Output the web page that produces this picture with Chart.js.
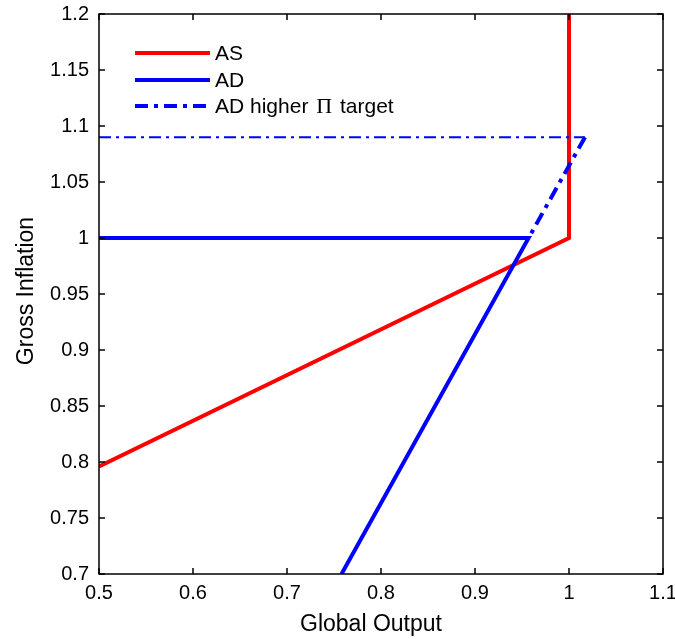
<!DOCTYPE html>
<html>
<head>
<meta charset="utf-8">
<script src="https://cdn.jsdelivr.net/npm/chart.js@4.4.1/dist/chart.umd.min.js"></script>
<style>
  html, body { margin: 0; padding: 0; background: #ffffff; }
  #wrap { width: 675px; height: 639px; }
</style>
</head>
<body>
<div id="wrap"><canvas id="c" width="675" height="639"></canvas></div>
<script>
// ---- data ----
const xTickLabels = ['0.5', '0.6', '0.7', '0.8', '0.9', '1', '1.1'];
const yTickLabels = ['0.7', '0.75', '0.8', '0.85', '0.9', '0.95', '1', '1.05', '1.1', '1.15', '1.2'];
const seriesLabels = ['AS', 'AD', 'AD higher Π target'];
const xTitle = 'Global Output';
const yTitle = 'Gross Inflation';

const asX = [0.5, 1.0, 1.0];
const asY = [0.796, 1.0, 1.2];
const adX = [0.5, 0.957, 0.758];
const adY = [1.0, 1.0, 0.7];
const adHighX = [1.017, 0.957];
const adHighY = [1.09, 1.0];
const targetX = [0.5, 1.017];
const targetY = [1.09, 1.09];

function pts(xs, ys) { return xs.map((x, i) => ({ x: x, y: ys[i] })); }
function labelFor(list, value) {
  for (const l of list) { if (Math.abs(parseFloat(l) - value) < 1e-6) return l; }
  return '';
}

const FONT = "'Liberation Sans', Arial, sans-serif";

const boxPlugin = {
  id: 'boxPlugin',
  afterDraw(chart) {
    const ctx = chart.ctx;
    const a = chart.chartArea;
    const xs = chart.scales.x, ys = chart.scales.y;
    ctx.save();
    ctx.strokeStyle = '#000';
    ctx.lineWidth = 1.5;
    ctx.strokeRect(a.left, a.top, a.right - a.left, a.bottom - a.top);
    const tl = 6;
    ctx.beginPath();
    xs.ticks.forEach(t => {
      const px = xs.getPixelForValue(t.value);
      ctx.moveTo(px, a.bottom); ctx.lineTo(px, a.bottom - tl);
      ctx.moveTo(px, a.top); ctx.lineTo(px, a.top + tl);
    });
    ys.ticks.forEach(t => {
      const py = ys.getPixelForValue(t.value);
      ctx.moveTo(a.left, py); ctx.lineTo(a.left + tl, py);
      ctx.moveTo(a.right, py); ctx.lineTo(a.right - tl, py);
    });
    ctx.stroke();

    // axis titles
    ctx.fillStyle = '#000';
    ctx.font = '23px ' + FONT;
    ctx.textAlign = 'center';
    ctx.textBaseline = 'alphabetic';
    ctx.fillText(xTitle, 371, 631);
    ctx.save();
    ctx.translate(33, 291);
    ctx.rotate(-Math.PI / 2);
    ctx.fillText(yTitle, 0, 0);
    ctx.restore();

    // legend
    const rows = [53, 80, 106];
    const lx0 = 135, lx1 = 210, tx = 215;
    ctx.textAlign = 'left';
    ctx.textBaseline = 'middle';
    seriesLabels.forEach((lab, i) => {
      const ds = chart.data.datasets[i];
      ctx.save();
      ctx.strokeStyle = ds.borderColor;
      ctx.lineWidth = ds.borderWidth;
      ctx.setLineDash(ds.borderDash || []);
      ctx.beginPath();
      ctx.moveTo(lx0, rows[i]); ctx.lineTo(lx1, rows[i]);
      ctx.stroke();
      ctx.restore();
      ctx.fillStyle = '#000';
      const parts = lab.split('Π');
      let x = tx;
      parts.forEach((p, j) => {
        ctx.font = '21px ' + FONT;
        ctx.fillText(p, x, rows[i] + 1);
        x += ctx.measureText(p).width;
        if (j < parts.length - 1) {
          ctx.font = "22px 'Liberation Serif', 'DejaVu Serif', serif";
          x += 2;
          ctx.fillText('Π', x, rows[i] + 1);
          x += ctx.measureText('Π').width + 2;
        }
      });
    });
    ctx.restore();
  }
};

new Chart(document.getElementById('c'), {
  type: 'scatter',
  data: {
    datasets: [
      { label: seriesLabels[0], data: pts(asX, asY), showLine: true, borderColor: '#ff0000', backgroundColor: '#ff0000', borderWidth: 4, pointRadius: 0, order: 4 },
      { label: seriesLabels[1], data: pts(adX, adY), showLine: true, borderColor: '#0000ff', backgroundColor: '#0000ff', borderWidth: 4, pointRadius: 0, order: 1 },
      { label: seriesLabels[2], data: pts(adHighX, adHighY), showLine: true, borderColor: '#0000ff', backgroundColor: '#0000ff', borderWidth: 4, borderDash: [13, 6, 4, 6], pointRadius: 0, order: 2 },
      { label: 'target', data: pts(targetX, targetY), showLine: true, borderColor: '#0000ff', backgroundColor: '#0000ff', borderWidth: 2, borderDash: [12, 5, 3, 5], pointRadius: 0, order: 3 }
    ]
  },
  options: {
    responsive: false,
    animation: false,
    events: [],
    layout: { padding: { top: 14, right: 12, left: 0, bottom: 0 } },
    plugins: { legend: { display: false }, tooltip: { enabled: false }, title: { display: false } },
    scales: {
      x: {
        type: 'linear', min: 0.5, max: 1.1,
        grid: { display: false, drawTicks: false },
        border: { display: false },
        ticks: {
          stepSize: 0.1, padding: 7, color: '#000', maxRotation: 0, autoSkip: false,
          font: { family: FONT, size: 20 },
          callback: v => labelFor(xTickLabels, v)
        },
        afterFit: s => { s.height = 65; s.paddingLeft = 0; s.paddingRight = 0; }
      },
      y: {
        type: 'linear', min: 0.7, max: 1.2,
        grid: { display: false, drawTicks: false },
        border: { display: false },
        ticks: {
          stepSize: 0.05, padding: 10, color: '#000', autoSkip: false,
          font: { family: FONT, size: 20 },
          callback: v => labelFor(yTickLabels, v)
        },
        afterFit: s => { s.width = 99; s.paddingTop = 0; s.paddingBottom = 0; }
      }
    }
  },
  plugins: [boxPlugin]
});
</script>
</body>
</html>
